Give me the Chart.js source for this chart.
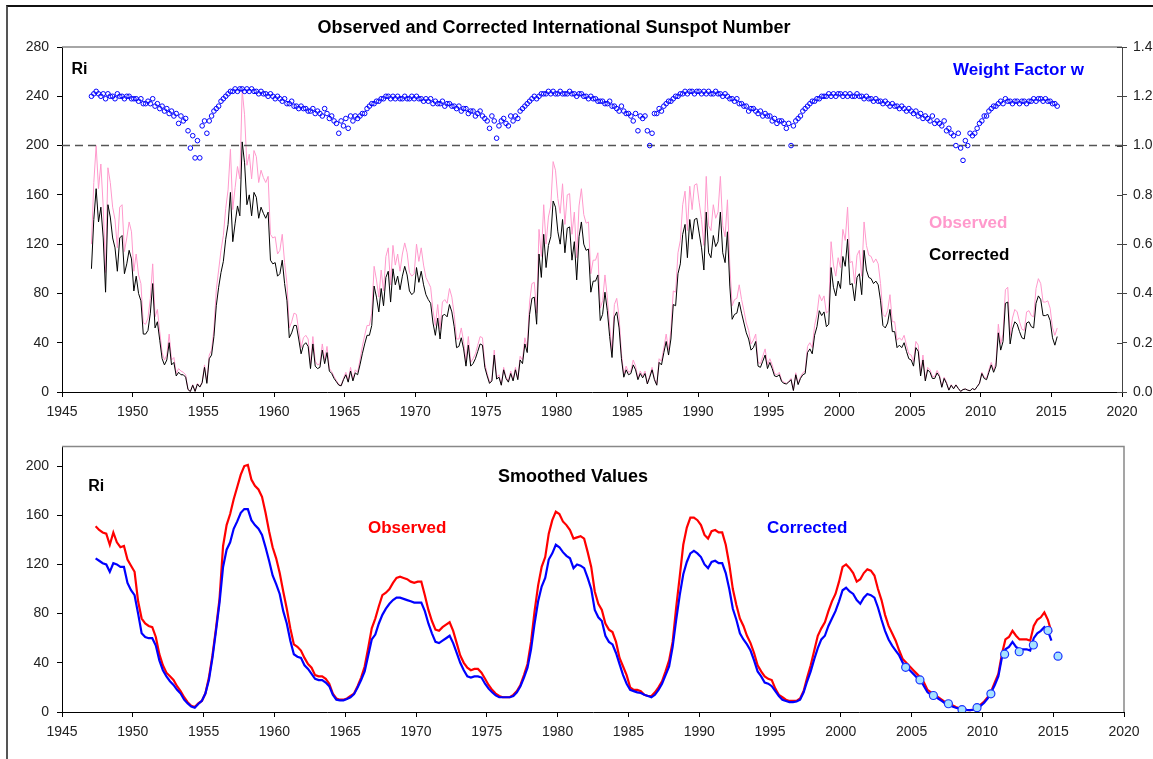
<!DOCTYPE html>
<html><head><meta charset="utf-8">
<script src="https://cdn.jsdelivr.net/npm/chart.js@4.4.1/dist/chart.umd.min.js"></script>
<style>
html,body{margin:0;padding:0;background:#fff;}
#wrap{position:relative;width:1153px;height:759px;overflow:hidden;background:#fff;}
canvas{position:absolute;left:0;}
#frame{position:absolute;left:6px;top:5px;width:1160px;height:800px;border-top:2px solid #111;border-left:2px solid #555;pointer-events:none;}
</style></head><body>
<div id="wrap">
<canvas id="cTop" width="1153" height="430" style="top:0"></canvas>
<canvas id="cBot" width="1153" height="329" style="top:430px"></canvas>
<div id="frame"></div>
</div>
<script>
// ---------------- DATA ----------------
// Tick labels
const xTickYears = [1945,1950,1955,1960,1965,1970,1975,1980,1985,1990,1995,2000,2005,2010,2015,2020];
const riTicksTop = [0,40,80,120,160,200,240,280];
const wTicks = [0,0.2,0.4,0.6,0.8,1.0,1.2,1.4];
const riTicksBottom = [0,40,80,120,160,200];

// Raw series: two-month steps starting Jan 1947 (6 values per year)
const rawStartYear = 1947;
const rawStepYears = 1/6;
const rawObserved = [
120,170,200,165,185,150, 97,182,170,150,140,117, 150,152,114,125,138,130, 98,112,95,88,56,55,
60,76,104,61,67,49, 32,26,30,47,26,28, 15,19,17,16,14,2, 0.4,6,0.5,7,4,8,
22,8,30,34,51,83, 99,115,127,149,164,197, 148,166,183,173,245,225, 184,193,173,196,191,170,
180,174,170,175,128,125, 126,112,115,128,105,88, 52,57,64,63,50,36, 44,46,43,22,45,25,
22,23,39,26,37,19, 16.5,12.5,9.3,6.2,5.4,11, 16,9,20,10,18,16, 26,37,46,54,54,64,
102,91,77,99,82,110, 117,87,119,103,112,98, 112,121,113,97,94,96, 120,106,117,103,93,89,
85,66,54,71,51,73, 75,72,84,77,63,43, 43,52,41,24,45,24, 27,31,38,45,44,23,
15,8,10,34,12,14, 6,20,12,9,17,10, 20,11,29,26,44,36, 73,88,89,64,132,110,
152,120,142,151,187,180, 157,145,169,136,160,161, 128,146,109,151,165,144, 137,138,96,107,107,113,
68,74,95,77,53,33, 71,76,61,31,14,21, 16,17,26,21,11,17, 13,17,7,13,20,11,
6,27,25,36,47,34, 50,82,81,113,123,152, 163,131,167,148,168,169, 154,140,119,175,135,131,
152,141,146,175,135,126, 156,103,70,75,76,87, 75,66,56,50,39,42, 47,24,23,29,35,22,
27,22,15,14,16,9.5, 8,7,8.6,11,1.3,15.6, 6.6,12,15.6,17,37,40, 36,54,63,79,74,78,
64,66,122,103,94,109, 101,132,123,150,105,106, 88,111,115,94,138,119, 111,110,105,108,104,88,
63,61,66,79,57,57, 42,44,42,46,38,31, 30,24.5,41,38,15,30, 10,20,18,12.5,12.5,17.5,
14,4.2,12,8,1.6,6, 2.7,6,3,0.5,2,2.5, 1.5,1,2.8,1.8,4.4,7.4, 16,12,11,18,24,18,
24,55,39,47,83,85, 46,60,67,65,57,51, 50,65,66,62,61,84, 92,88,73,73,74,68,
52,46,52
];
const rawCorrected = [
100,140,165,138,150,125, 81,152,142,125,117,98, 125,127,96,104,115,108, 82,94,80,74,47,47,
50,64,88,52,57,42, 27,22,26,40,22,24, 13,16,14,14,12,2, 0.4,5.5,0.5,6.5,4,7.5,
20,7,27,30,45,70, 85,97,106,124,136,162, 122,137,151,143,203,186, 152,160,143,162,158,141,
150,145,141,146,107,104, 105,94,96,107,88,74, 44,48,54,54,43,31, 38,40,37,19,39,21,
19,20,34,23,32,17, 15,11,8.3,5.6,5,10, 14,8,17,9,15.5,14, 22,31,39,46,46,54,
86,77,65,84,70,93, 98,73,100,87,94,83, 94,102,95,82,79,81, 101,89,98,87,79,75,
72,56,46,60,43,62, 63,61,71,65,53,36, 37,44,35,21,38,21, 23,27,33,39,38,20,
13,7,9,30,10.5,12, 5.5,18,11,8,15,9, 18,10,26,23,39,32, 63,76,77,55,112,93,
128,101,119,126,155,150, 130,120,140,113,133,134, 107,122,91,126,138,120, 115,116,81,90,90,95,
58,63,81,66,45,28, 61,65,52,27,12,18, 14,15,22,18,10,15, 11.5,15,6.5,12,18,10,
5.5,24,22,32,41,30, 43,71,70,96,104,128, 136,109,140,124,140,141, 129,117,99,146,113,109,
127,118,122,146,113,105, 130,86,59,63,64,73, 64,56,48,43,34,36, 41,21,20,25,30,19,
24,19,13,12.5,14,8.5, 7,6.5,8,10,1.2,14, 6,11,14,15,32,35, 31,46,53,66,62,65,
53,55,101,85,78,90, 84,110,102,124,87,88, 74,93,96,79,115,99, 93,92,88,90,87,74,
54,52,56,67,49,49, 36,38,36,40,33,27, 26,21,36,33,13,26, 9,18,16,11,11,15.5,
12.5,3.8,11,7,1.5,5.5, 2.6,5.7,2.9,0.5,2,2.4, 1.5,1,2.8,1.8,4.3,7, 15,11,10,16,22,16,
21,48,34,41,72,73, 39,51,57,55,49,44, 43,56,57,53,52,72, 78,75,62,62,63,58,
44,38,45
];
const weightFactor = [
1.20,1.21,1.22,1.21,1.20,1.21, 1.19,1.21,1.20,1.20,1.19,1.21, 1.20,1.20,1.19,1.20,1.20,1.19, 1.19,1.19,1.18,1.19,1.17,1.17,
1.18,1.17,1.19,1.16,1.17,1.15, 1.16,1.14,1.15,1.13,1.14,1.12, 1.13,1.09,1.12,1.10,1.11,1.06, 0.99,1.04,0.95,1.02,0.95,1.08,
1.10,1.05,1.10,1.12,1.14,1.15, 1.16,1.18,1.19,1.20,1.21,1.22, 1.22,1.23,1.22,1.23,1.23,1.22, 1.23,1.22,1.23,1.22,1.22,1.21,
1.22,1.21,1.21,1.20,1.21,1.20, 1.19,1.20,1.19,1.18,1.19,1.17, 1.17,1.18,1.16,1.16,1.15,1.16, 1.15,1.15,1.14,1.14,1.15,1.13,
1.14,1.13,1.12,1.15,1.13,1.11, 1.12,1.10,1.09,1.05,1.10,1.08, 1.11,1.07,1.12,1.10,1.12,1.11, 1.12,1.13,1.13,1.15,1.16,1.17,
1.17,1.18,1.18,1.19,1.19,1.20, 1.20,1.19,1.20,1.19,1.20,1.19, 1.19,1.20,1.19,1.19,1.20,1.19, 1.20,1.19,1.19,1.18,1.19,1.18,
1.19,1.17,1.18,1.17,1.17,1.18, 1.16,1.17,1.17,1.16,1.16,1.15, 1.16,1.14,1.15,1.15,1.13,1.14, 1.14,1.12,1.13,1.14,1.12,1.11,
1.10,1.07,1.12,1.10,1.03,1.08, 1.10,1.11,1.09,1.08,1.12,1.10, 1.12,1.11,1.14,1.15,1.16,1.17, 1.18,1.19,1.20,1.19,1.20,1.21,
1.21,1.21,1.22,1.21,1.22,1.21, 1.21,1.22,1.21,1.21,1.21,1.22, 1.21,1.21,1.20,1.21,1.21,1.20, 1.20,1.19,1.20,1.19,1.19,1.18,
1.18,1.18,1.17,1.17,1.18,1.16, 1.16,1.15,1.14,1.16,1.14,1.13, 1.13,1.12,1.10,1.13,1.06,1.12, 1.11,1.12,1.06,1.00,1.05,1.13,
1.13,1.15,1.14,1.16,1.17,1.18, 1.18,1.19,1.20,1.20,1.21,1.21, 1.22,1.21,1.22,1.22,1.21,1.22, 1.22,1.21,1.22,1.21,1.22,1.21,
1.21,1.22,1.21,1.21,1.20,1.21, 1.20,1.19,1.19,1.18,1.19,1.17, 1.17,1.16,1.16,1.14,1.15,1.15, 1.14,1.13,1.14,1.12,1.13,1.12,
1.12,1.10,1.11,1.09,1.10,1.10, 1.09,1.07,1.09,1.00,1.08,1.10, 1.11,1.12,1.14,1.15,1.16,1.17, 1.18,1.18,1.19,1.19,1.20,1.20,
1.20,1.21,1.20,1.21,1.20,1.21, 1.21,1.20,1.21,1.20,1.21,1.20, 1.20,1.21,1.20,1.20,1.19,1.20, 1.19,1.19,1.18,1.19,1.18,1.18,
1.17,1.18,1.17,1.16,1.17,1.16, 1.16,1.15,1.16,1.15,1.14,1.15, 1.14,1.13,1.14,1.12,1.13,1.11, 1.12,1.11,1.10,1.12,1.09,1.10,
1.09,1.08,1.10,1.06,1.07,1.05, 1.04,1.00,1.05,0.99,0.94,1.02, 1.00,1.05,1.04,1.05,1.07,1.09, 1.10,1.12,1.12,1.14,1.15,1.16,
1.16,1.17,1.18,1.17,1.19,1.18, 1.18,1.17,1.18,1.18,1.17,1.18, 1.18,1.17,1.18,1.18,1.19,1.18, 1.19,1.19,1.18,1.19,1.18,1.18,
1.17,1.17,1.16
];
const weightRefLevel = 1.0;

// Smoothed series: quarterly steps starting 1947.375
const smoothStartYear = 1947.375;
const smoothStepYears = 0.25;
const smoothObserved = [
151,148,146, 145,136,146,138, 134,135,124,119, 114,90,76,72, 70,69,61,47, 38,32,29,26, 21,17,12,8, 5,4,7,9,
15,28,46,68, 92,135,152,161, 173,183,193,200, 201,189,184,181, 175,162,147,134, 125,113,98,84, 68,55,53,50,
44,39,36,30, 29,29,27,23, 15,11,10,10, 11,13,15,21, 28,37,52,68, 76,86,95,97, 100,105,109,110,
109,108,106,105, 106,106,95,83, 74,67,66,69, 71,73,66,56, 46,40,36,34, 35,35,32,27, 22,18,15,13,
12,12,12,14, 17,22,30,39, 57,82,103,118, 126,145,156,163, 161,155,152,148, 141,142,143,141, 130,118,98,88,
83,72,67,65, 57,44,37,30, 20,18,18,17, 14,13,13,16, 20,25,33,42, 57,85,110,136, 150,158,158,156,
152,144,141,147, 148,146,146,136, 120,100,87,76, 70,62,56,48, 38,33,29,27, 26,19,14,12, 10,9,9,9,
11,17,28,38, 50,62,68,73, 82,90,96,106, 118,120,117,113, 106,108,113,116, 115,111,100,91, 79,70,64,58,
50,43,40,37, 34,31,28,24, 18,16,14,12, 10,8,7,5.5, 4,3,2.5,1.7, 1.5,2,3.5,6, 8.5,12,17,24,
31,47,59,61, 66,62,59,59, 59,58,70,75, 77,81,75,65
];
const smoothCorrected = [
125,123,121, 120,114,121,120, 118,118,105,99, 95,80,64,61, 60,60,54,42, 34,29,25,22, 18,15,10,7, 4.5,3.5,6.5,9,
15,26,44,66, 89,118,132,138, 149,155,162,165, 165,156,152,149, 144,134,123,111, 104,96,82,72, 58,47,45,44,
38,35,31,27, 26,26,24,21, 14,10,9.5,9.5, 10.5,12,14.5,20, 26,33,46,59, 63,72,79,84, 88,91,93,93,
92,91,90,89, 89,89,82,72, 64,57,56,58, 60,62,56,48, 40,34,29,28, 29,29,28,23, 19,16,13.5,12,
12,12,12,13, 16,21,28,36, 51,72,90,102, 109,124,129,136, 134,130,127,125, 117,120,119,117, 109,100,83,77,
74,62,57,55, 48,39,30,23, 18,17,16,15.5, 14,13,12,14, 18,23,30,37, 53,75,95,112, 122,129,131,129,
126,120,117,122, 123,121,121,113, 100,84,75,64, 59,55,50,42, 33,29,24,23, 21,17,13,10, 9,8,8,8.5,
10,16,25,33, 43,52,59,62, 70,76,82,90, 99,101,98,96, 91,88,93,96, 95,93,85,75, 66,59,54,50,
46,40,37,34, 31,28,26,21, 16,14,13,11, 9,7,6,4.5, 3.5,2.8,2.3,1.7, 1.5,1.8,3,5, 7.5,11,16,22,
29,44,51,53, 57,53,51,51, 51,50,60,64, 66,69,66,58
];
// Annual corrected markers
const markerYears = [2004.58,2005.59,2006.54,2007.6,2008.56,2009.62,2010.6,2011.57,2012.6,2013.6,2014.63,2015.34];
const markerValues = [36.3,26.1,13.4,6.7,1.9,3.5,14.8,47,49,54.5,66.3,45.4];

// ---------------- BUILD ----------------
const FONT = "'Liberation Sans', Arial, sans-serif";
Chart.defaults.font.family = FONT;
Chart.defaults.color = '#222';

const toPts = (arr, start, step) => arr.map((v,i) => ({x: start + i*step, y: v}));
const rawX0 = rawStartYear + rawStepYears/2;
const obsPts = toPts(rawObserved, rawX0, rawStepYears);
const corPts = toPts(rawCorrected, rawX0, rawStepYears);
const wPts = toPts(weightFactor, rawX0, rawStepYears);
const sObsPts = toPts(smoothObserved, smoothStartYear, smoothStepYears);
const sCorPts = toPts(smoothCorrected, smoothStartYear, smoothStepYears);
const markerPts = markerYears.map((x,i) => ({x, y: markerValues[i]}));

function textPlugin(id, items){
  return { id, afterDraw(chart){
    const ctx = chart.ctx; ctx.save();
    items.forEach(t => { ctx.font = t.font; ctx.fillStyle = t.color; ctx.textAlign = t.align || 'left';
      ctx.textBaseline = 'alphabetic'; ctx.fillText(t.text, t.x, t.y); });
    ctx.restore();
  }};
}
const tickFont = {size:14, family: FONT};
function xScale(h){
  return { type:'linear', min:1945, max:2020,
    afterBuildTicks: s => { s.ticks = xTickYears.map(v => ({value:v})); },
    afterFit: s => { s.height = h; },
    ticks:{ autoSkip:false, maxRotation:0, padding:7, color:'#222', font:tickFont, callback: v => String(v) },
    grid:{ drawOnChartArea:false, drawTicks:true, tickLength:5, tickColor:'#000', lineWidth:1 },
    border:{ display:true, color:'#000', width:1 } };
}

// ---- TOP CHART ----
const topFrame = { id:'topFrame', afterDraw(chart){
  const ctx = chart.ctx, a = chart.chartArea; ctx.save();
  ctx.strokeStyle = '#888'; ctx.lineWidth = 1.5;
  ctx.beginPath(); ctx.moveTo(a.left, a.top); ctx.lineTo(a.right, a.top); ctx.stroke();
  const s = chart.scales.y2; ctx.strokeStyle = '#444'; ctx.lineWidth = 1;
  s.ticks.forEach(t => { const y = Math.round(s.getPixelForValue(t.value)) + 0.5;
    ctx.beginPath(); ctx.moveTo(a.right - 5, y); ctx.lineTo(a.right, y); ctx.stroke(); });
  ctx.restore();
}};
new Chart(document.getElementById('cTop'), {
  type:'line',
  data:{ datasets:[
    { label:'Weight Factor w', data:wPts, yAxisID:'y2', showLine:false, pointStyle:'circle', pointRadius:2.3,
      pointBorderColor:'#0000ff', pointBackgroundColor:'rgba(255,255,255,0)', pointBorderWidth:1, order:0 },
    { label:'w = 1', data:[{x:1945,y:weightRefLevel},{x:2020,y:weightRefLevel}], yAxisID:'y2',
      borderColor:'#555', borderWidth:1.5, borderDash:[8,5], pointRadius:0, order:1 },
    { label:'Corrected', data:corPts, yAxisID:'y', borderColor:'#000', borderWidth:1, pointRadius:0, tension:0, order:2 },
    { label:'Observed', data:obsPts, yAxisID:'y', borderColor:'#ff99cc', borderWidth:1, pointRadius:0, tension:0, order:3 }
  ]},
  options:{ responsive:false, animation:false, devicePixelRatio:1,
    layout:{ padding:{ top:47, left:0, right:0, bottom:0 } },
    plugins:{ legend:{display:false}, tooltip:{enabled:false} },
    scales:{
      x: xScale(38),
      y: { type:'linear', position:'left', min:0, max:280,
        afterBuildTicks: s => { s.ticks = riTicksTop.map(v => ({value:v})); },
        afterFit: s => { s.width = 62; },
        ticks:{ padding:8, color:'#222', font:tickFont, callback: v => String(v) },
        grid:{ drawOnChartArea:false, tickLength:5, tickColor:'#000' },
        border:{ color:'#000', width:1 } },
      y2: { type:'linear', position:'right', min:0, max:1.4,
        afterBuildTicks: s => { s.ticks = wTicks.map(v => ({value:v})); },
        afterFit: s => { s.width = 31; },
        ticks:{ padding:6, color:'#222', font:tickFont, callback: v => Number(v).toFixed(1) },
        grid:{ drawOnChartArea:false, tickLength:5, tickColor:'#444' },
        border:{ color:'#444', width:1 } }
    }
  },
  plugins:[ topFrame, textPlugin('topText', [
    {text:'Observed and Corrected International Sunspot Number', x:554, y:33, font:'bold 18px '+FONT, color:'#000', align:'center'},
    {text:'Ri', x:71.5, y:73.5, font:'bold 16px '+FONT, color:'#000'},
    {text:'Weight Factor w', x:953, y:75, font:'bold 17px '+FONT, color:'#0000ff'},
    {text:'Observed', x:929, y:227.5, font:'bold 17px '+FONT, color:'#ff99cc'},
    {text:'Corrected', x:929, y:260, font:'bold 17px '+FONT, color:'#000'}
  ]) ]
});

// ---- BOTTOM CHART ----
const botFrame = { id:'botFrame', afterDraw(chart){
  const ctx = chart.ctx, a = chart.chartArea; ctx.save();
  ctx.strokeStyle = '#888'; ctx.lineWidth = 1.5;
  ctx.beginPath(); ctx.moveTo(a.left, a.top); ctx.lineTo(a.right, a.top); ctx.lineTo(a.right, a.bottom); ctx.stroke();
  ctx.restore();
}};
new Chart(document.getElementById('cBot'), {
  type:'line',
  data:{ datasets:[
    { label:'Corrected annual', data:markerPts, showLine:false, pointStyle:'circle', pointRadius:4,
      pointBackgroundColor:'#a6e2ff', pointBorderColor:'#1a33ff', pointBorderWidth:1.2, order:0 },
    { label:'Corrected', data:sCorPts, borderColor:'#0000ff', borderWidth:2.2, pointRadius:0, tension:0, order:1 },
    { label:'Observed', data:sObsPts, borderColor:'#ff0000', borderWidth:2.2, pointRadius:0, tension:0, order:2 }
  ]},
  options:{ responsive:false, animation:false, devicePixelRatio:1,
    layout:{ padding:{ top:13, left:0, right:29, bottom:0 } },
    plugins:{ legend:{display:false}, tooltip:{enabled:false} },
    scales:{
      x: xScale(47),
      y: { type:'linear', position:'left', min:0, max:216,
        afterBuildTicks: s => { s.ticks = riTicksBottom.map(v => ({value:v})); },
        afterFit: s => { s.width = 62; },
        ticks:{ padding:8, color:'#222', font:tickFont, callback: v => String(v) },
        grid:{ drawOnChartArea:false, tickLength:5, tickColor:'#000' },
        border:{ color:'#000', width:1 } }
    }
  },
  plugins:[ botFrame, textPlugin('botText', [
    {text:'Ri', x:88.3, y:61, font:'bold 16px '+FONT, color:'#000'},
    {text:'Smoothed Values', x:498, y:52.3, font:'bold 18px '+FONT, color:'#000'},
    {text:'Observed', x:368, y:103, font:'bold 17px '+FONT, color:'#ff0000'},
    {text:'Corrected', x:767, y:103, font:'bold 17px '+FONT, color:'#0000ff'}
  ]) ]
});
</script>
</body></html>
